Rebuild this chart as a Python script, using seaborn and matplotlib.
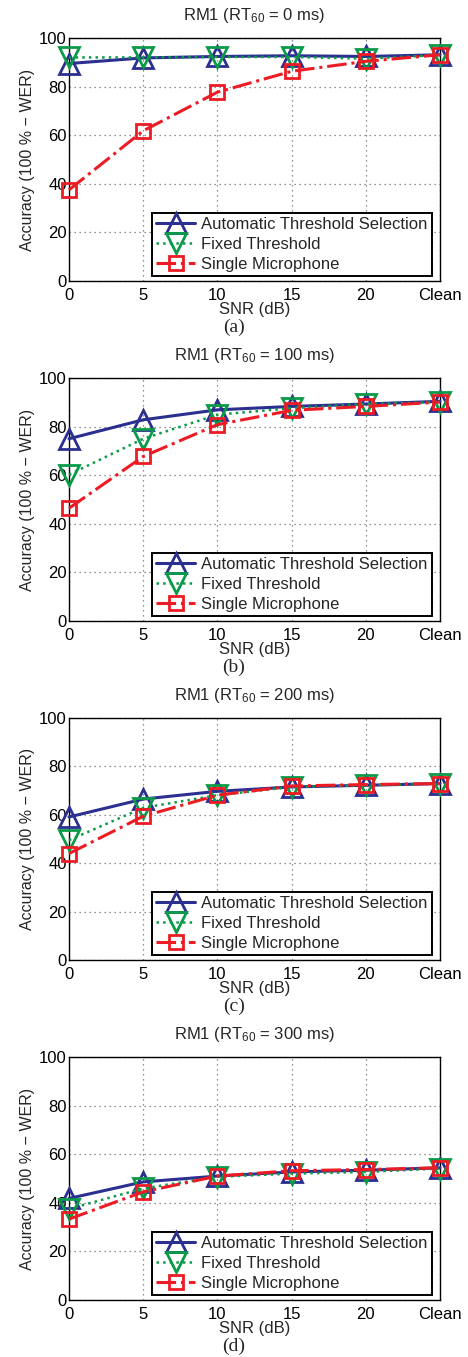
import matplotlib
matplotlib.use("Agg")
import matplotlib.pyplot as plt
import seaborn as sns
import numpy as np

sns.set_style("white")
plt.rcParams['font.family'] = ['Liberation Sans', 'DejaVu Sans']
plt.rcParams['mathtext.fontset'] = 'custom'
plt.rcParams['mathtext.rm'] = 'Liberation Sans'
plt.rcParams['mathtext.it'] = 'Liberation Sans:italic'
plt.rcParams['mathtext.bf'] = 'Liberation Sans:bold'

snr_labels = ["0", "5", "10", "15", "20", "Clean"]
rt60_values = ["0", "100", "200", "300"]
panel_tags = ["(a)", "(b)", "(c)", "(d)"]
series_names = ["Automatic Threshold Selection", "Fixed Threshold", "Single Microphone"]

ats_0 = [89.5, 91.8, 92.4, 92.7, 92.4, 93.1]
fixed_0 = [92.0, 92.0, 92.2, 92.2, 91.5, 93.0]
single_0 = [37.5, 61.8, 77.7, 86.3, 90.4, 93.1]

ats_100 = [75.0, 82.8, 86.9, 88.3, 89.3, 90.4]
fixed_100 = [60.2, 75.0, 84.9, 87.6, 89.3, 90.1]
single_100 = [46.4, 67.7, 80.8, 86.7, 88.3, 90.1]

ats_200 = [59.1, 66.5, 69.7, 71.5, 72.2, 72.9]
fixed_200 = [49.5, 62.9, 68.1, 71.5, 72.2, 72.9]
single_200 = [44.0, 59.4, 68.1, 71.9, 72.5, 72.9]

ats_300 = [41.8, 48.6, 51.0, 52.7, 53.4, 54.4]
fixed_300 = [37.5, 45.9, 50.7, 52.0, 52.7, 54.1]
single_300 = [33.3, 44.5, 51.0, 53.2, 53.7, 54.4]

panels = [
    (ats_0, fixed_0, single_0),
    (ats_100, fixed_100, single_100),
    (ats_200, fixed_200, single_200),
    (ats_300, fixed_300, single_300),
]

c_blue = "#2B2F8F"
c_green = "#0A9A48"
c_red = "#EC1C24"

W, H = 468, 1357
fig = plt.figure(figsize=(W / 100, H / 100), dpi=100)

ax_left = 69 / W
ax_width = (440 - 69) / W
tops = [38, 378, 718, 1057]
bottoms = [281, 621, 960, 1300]

xpos = np.arange(len(snr_labels))

for i, (ats, fixed, single) in enumerate(panels):
    b = 1 - bottoms[i] / H
    h = (bottoms[i] - tops[i]) / H
    ax = fig.add_axes([ax_left, b, ax_width, h])

    sns.lineplot(x=xpos, y=ats, ax=ax, color=c_blue, linestyle='-', linewidth=2.2,
                 marker='^', markersize=15, markerfacecolor='none',
                 markeredgecolor=c_blue, markeredgewidth=2.0, label=series_names[0],
                 clip_on=False, zorder=3)
    sns.lineplot(x=xpos, y=fixed, ax=ax, color=c_green, linestyle=':', linewidth=1.8,
                 marker='v', markersize=15, markerfacecolor='none',
                 markeredgecolor=c_green, markeredgewidth=2.0, label=series_names[1],
                 clip_on=False, zorder=4)
    sns.lineplot(x=xpos, y=single, ax=ax, color=c_red, linestyle='-.', linewidth=2.2,
                 marker='s', markersize=10.5, markerfacecolor='none',
                 markeredgecolor=c_red, markeredgewidth=2.0, label=series_names[2],
                 clip_on=False, zorder=5)

    ax.set_xlim(0, len(snr_labels) - 1)
    ax.set_ylim(0, 100)
    ax.set_xticks(xpos)
    ax.set_xticklabels(snr_labels)
    ax.set_yticks([0, 20, 40, 60, 80, 100])
    ax.tick_params(axis='both', direction='in', length=3, width=0.8, labelsize=12,
                   colors='black', top=False, right=False)
    ax.tick_params(axis='y', pad=1.5)
    ax.tick_params(axis='x', pad=5)
    ax.grid(True, linestyle=(0, (1, 3)), color='#707070', linewidth=0.9)
    for s in ax.spines.values():
        s.set_color('black')
        s.set_linewidth(1.0)
        s.set_visible(True)

    ax.set_xlabel("SNR (dB)", fontsize=12, labelpad=-1)
    ax.set_ylabel("Accuracy (100 % \u2212 WER)", fontsize=11.5, labelpad=3)
    ax.set_title("RM1 (RT$_{60}$ = " + rt60_values[i] + " ms)", fontsize=12, pad=13)

    leg = ax.legend(loc='lower right', bbox_to_anchor=(1 - 8 / 371, 5 / 243),
                    borderaxespad=0, fontsize=12, frameon=True, fancybox=False,
                    handlelength=2.3, handletextpad=0.4, labelspacing=0.3,
                    borderpad=0.25, framealpha=1)
    leg.get_frame().set_edgecolor('black')
    leg.get_frame().set_linewidth(1.4)
    leg.set_zorder(10)

    fig.text(234 / W, 1 - (bottoms[i] + 46) / H, panel_tags[i], ha='center', va='center',
             fontsize=14, family=['Liberation Serif', 'DejaVu Serif'])

fig.savefig("out.png", dpi=100)
